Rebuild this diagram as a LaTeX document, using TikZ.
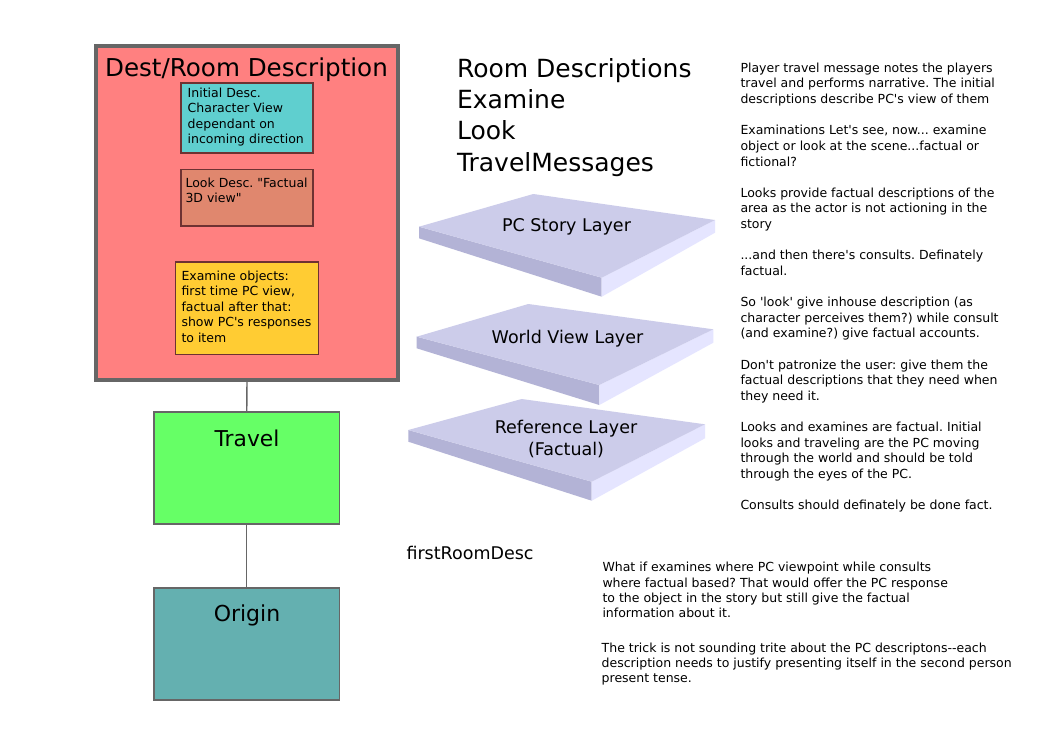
\documentclass[tikz,border=0pt]{standalone}
\usepackage{fontspec}
\setmainfont{DejaVu Sans}[Ligatures=TeXOff]
\frenchspacing
\definecolor{destfill}{RGB}{255,128,128}
\definecolor{destline}{RGB}{102,102,102}
\definecolor{cyanfill}{RGB}{95,207,207}
\definecolor{lookfill}{RGB}{224,135,110}
\definecolor{yelfill}{RGB}{255,204,51}
\definecolor{innerline}{RGB}{110,50,50}
\definecolor{travfill}{RGB}{102,255,102}
\definecolor{origfill}{RGB}{100,176,176}
\definecolor{slabT}{RGB}{204,204,234}
\definecolor{slabL}{RGB}{179,179,214}
\definecolor{slabR}{RGB}{229,229,255}
\newcommand\myfs[2]{\fontsize{#1}{#2}\selectfont}
\tikzset{
  box/.style={draw, rectangle, inner sep=0pt, outer sep=0pt, anchor=north west},
  innerbox/.style={box, draw=innerline, line width=1.6pt},
  bigbox/.style={box, draw=destline, line width=1.5pt},
  txt/.style={inner sep=0pt, outer sep=0pt, anchor=base west, align=left},
  smalltxt/.style={txt, font=\myfs{12.5}{15.5}},
  layertxt/.style={inner sep=0pt, outer sep=0pt, anchor=base, align=center, font=\myfs{17.5}{21.7}},
  link/.style={draw=destline, line width=1.4pt},
}
\begin{document}
\begin{tikzpicture}[x=1pt,y=-1pt]
\useasboundingbox (0,0) rectangle (1052,744);
\fill[white] (0,0) rectangle (1052,744);

% left column boxes
\node[box, draw=destline, fill=destfill, line width=3.5pt, minimum width=302pt, minimum height=334pt] (dest) at (96,46) {};
\node[inner sep=0pt, anchor=base, font=\myfs{24.6}{30}] (desttitle) at (246.5,76) {Dest/Room Description};

\node[innerbox, fill=cyanfill, minimum width=132pt, minimum height=70pt] (init) at (181,83) {};
\node[smalltxt] (inittxt) at (187.7,143.8) {Initial Desc.\\Character View\\dependant on\\incoming direction};

\node[innerbox, fill=lookfill, minimum width=132pt, minimum height=56.5pt] (look) at (181,169.5) {};
\node[smalltxt] (looktxt) at (185.5,202.8) {Look Desc. "Factual\\3D view"};

\node[innerbox, fill=yelfill, minimum width=143pt, minimum height=92.5pt] (exam) at (175.5,262) {};
\node[smalltxt] (examtxt) at (181.5,342) {Examine objects:\\first time PC view,\\factual after that:\\show PC's responses\\to item};

\node[bigbox, fill=travfill, minimum width=185.5pt, minimum height=112pt] (travel) at (154,412) {};
\node[inner sep=0pt, anchor=base, font=\myfs{21.8}{27}] (traveltxt) at (247,446) {Travel};

\node[bigbox, fill=origfill, minimum width=185.5pt, minimum height=112pt] (origin) at (154,588) {};
\node[inner sep=0pt, anchor=base, font=\myfs{22}{27}] (origintxt) at (247,621.7) {Origin};

\draw[link] (dest.south) -- (travel.north);
\draw[link] (travel.south) -- (origin.north);

% headings
\node[txt, font=\myfs{25}{31.25}] (heads) at (457,171) {Room Descriptions\\Examine\\Look\\TravelMessages};

% layers
\coordinate (aL) at (419,226.7); \coordinate (aB) at (533.3,194); \coordinate (aR) at (715,220); \coordinate (aF) at (601.7,277.7);
\coordinate (aLb) at (419,238.3); \coordinate (aFb) at (601.7,296.7); \coordinate (aRb) at (715,232.7);
\fill[slabL] (aL) -- (aF) -- (aFb) -- (aLb) -- cycle;
\fill[slabR] (aF) -- (aR) -- (aRb) -- (aFb) -- cycle;
\fill[slabT] (aL) -- (aB) -- (aR) -- (aF) -- cycle;
\node[layertxt] (pcstory) at (566.5,231) {PC Story Layer};

\coordinate (bL) at (416.7,336.7); \coordinate (bB) at (528.3,304); \coordinate (bR) at (713.3,329.3); \coordinate (bF) at (599.3,385);
\coordinate (bLb) at (416.7,348.3); \coordinate (bFb) at (599.3,405); \coordinate (bRb) at (713.3,342.7);
\fill[slabL] (bL) -- (bF) -- (bFb) -- (bLb) -- cycle;
\fill[slabR] (bF) -- (bR) -- (bRb) -- (bFb) -- cycle;
\fill[slabT] (bL) -- (bB) -- (bR) -- (bF) -- cycle;
\node[layertxt] (worldview) at (567.5,343.3) {World View Layer};

\coordinate (cL) at (408.3,430); \coordinate (cB) at (521.7,399); \coordinate (cR) at (705,424.3); \coordinate (cF) at (591.7,481.7);
\coordinate (cLb) at (408.3,441.7); \coordinate (cFb) at (591.7,500.7); \coordinate (cRb) at (705,438.3);
\fill[slabL] (cL) -- (cF) -- (cFb) -- (cLb) -- cycle;
\fill[slabR] (cF) -- (cR) -- (cRb) -- (cFb) -- cycle;
\fill[slabT] (cL) -- (cB) -- (cR) -- (cF) -- cycle;
\node[layertxt] (reference) at (566,455) {Reference Layer\\(Factual)};

\node[txt, font=\myfs{17.5}{21.7}] (firstroom) at (406.5,559.5) {firstRoomDesc};

% right column notes
\node[txt, font=\myfs{12.5}{15.625}] (notes) at (740.5,509.8) {Player travel message notes the players\\travel and performs narrative. The initial\\descriptions describe PC's view of them\\[15.625pt]Examinations Let's see, now... examine\\object or look at the scene...factual or\\fictional?\\[15.625pt]Looks provide factual descriptions of the\\area as the actor is not actioning in the\\story\\[15.625pt]...and then there's consults. Definately\\factual.\\[15.625pt]So 'look' give inhouse description (as\\character perceives them?) while consult\\(and examine?) give factual accounts.\\[15.625pt]Don't patronize the user: give them the\\factual descriptions that they need when\\they need it.\\[15.625pt]Looks and examines are factual. Initial\\looks and traveling are the PC moving\\through the world and should be told\\through the eyes of the PC.\\[15.625pt]Consults should definately be done fact.};

\node[txt, font=\myfs{12.5}{15.33}] (whatif) at (602.5,617.7) {What if examines where PC viewpoint while consults\\where factual based? That would offer the PC response\\to the object in the story but still give the factual\\information about it.};

\node[txt, font=\myfs{12.5}{15}] (trick) at (601.7,682.3) {The trick is not sounding trite about the PC descriptons--each\\description needs to justify presenting itself in the second person\\present tense.};
\end{tikzpicture}
\end{document}
